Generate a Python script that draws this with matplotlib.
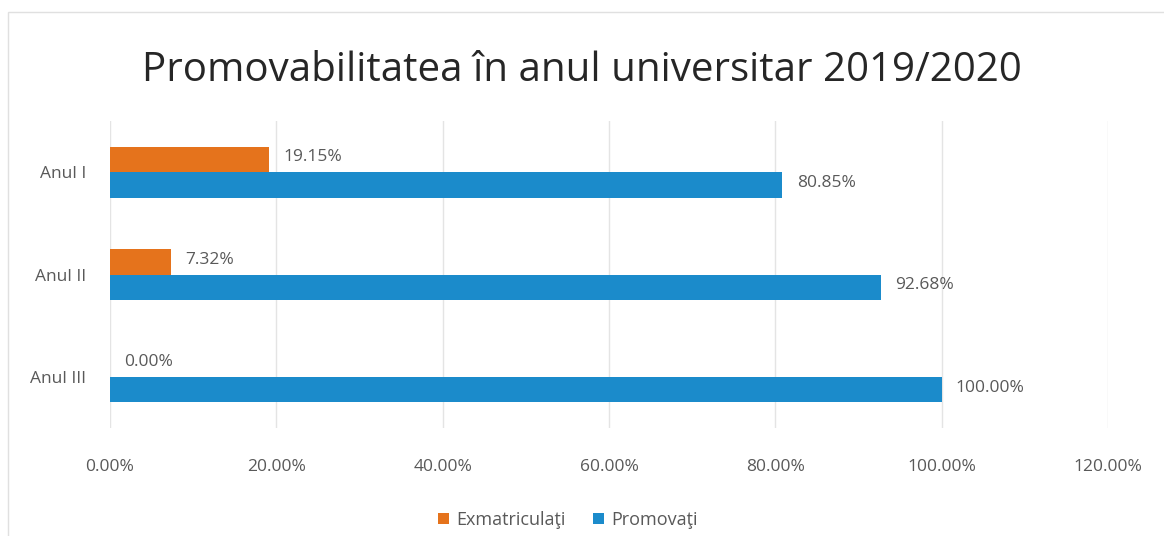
import matplotlib.pyplot as plt
from matplotlib.ticker import FuncFormatter
import numpy as np

categories = ['Anul I', 'Anul II', 'Anul III']
exmatriculati = [19.15, 7.32, 0.00]
promovati = [80.85, 92.68, 100.00]
series_names = ['Exmatriculaţi', 'Promovaţi']
title = 'Promovabilitatea în anul universitar 2019/2020'

orange = '#E5731C'
blue = '#1B8BCB'
text_gray = '#595959'

plt.rcParams['font.family'] = ['Open Sans', 'DejaVu Sans']

fig = plt.figure(figsize=(11.64, 5.36), dpi=100)
ax = fig.add_axes([0.0945, 0.2015, 0.8575, 0.5725])

y = np.arange(len(categories))
h = 0.25
b1 = ax.barh(y - h / 2, exmatriculati, height=h, color=orange, label=series_names[0])
b2 = ax.barh(y + h / 2, promovati, height=h, color=blue, label=series_names[1])

# value labels at the end of each bar
for bars, vals in ((b1, exmatriculati), (b2, promovati)):
    for bar, v in zip(bars, vals):
        ax.text(v + 1.7, bar.get_y() + bar.get_height() / 2 - 0.02, '%.2f%%' % v,
                va='center', ha='left', fontsize=12.5, color=text_gray)

ax.set_xlim(0, 120)
ax.set_ylim(len(categories) - 0.5, -0.5)
ax.set_xticks(np.arange(0, 121, 20))
ax.xaxis.set_major_formatter(FuncFormatter(lambda v, p: '%.2f%%' % v))
ax.set_yticks(y)
ax.set_yticklabels(categories)
ax.tick_params(axis='both', length=0, labelsize=12.5, colors=text_gray)
ax.tick_params(axis='x', pad=22)
ax.tick_params(axis='y', pad=17)
ax.grid(axis='x', color='#E4E4E4', linewidth=1)
ax.set_axisbelow(True)
for s in ax.spines.values():
    s.set_visible(False)

fig.text(0.5, 0.868, title, ha='center', va='center', fontsize=29, color='#262626')

fig.legend(loc='center', bbox_to_anchor=(0.488, 0.03), ncol=2, frameon=False,
           fontsize=13, handlelength=0.6, handleheight=0.6, handletextpad=0.4,
           columnspacing=1.5, labelcolor=text_gray)

fig.patches.append(plt.Rectangle((0.007, -0.01), 1.0, 0.987, transform=fig.transFigure,
                                 fill=False, edgecolor='#E0E0E0', linewidth=1))

fig.savefig('out.png', dpi=100)
